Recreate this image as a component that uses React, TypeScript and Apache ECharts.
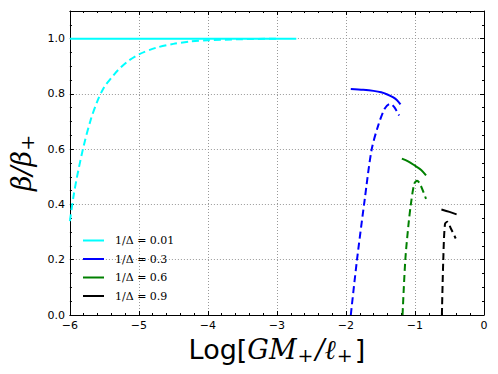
import React, { useEffect, useRef } from "react";
import * as echarts from "echarts";

const legendNames = ["1/Δ = 0.01", "1/Δ = 0.3", "1/Δ = 0.6", "1/Δ = 0.9"];
const colors = ["#00ffff", "#0000ff", "#008000", "#000000"];

// solid curves [x, y]
const solid001: number[][] = [[-6, 1.0], [-2.72, 1.0]];
const solid03: number[][] = [[-1.93, 0.818], [-1.75, 0.815], [-1.6, 0.811], [-1.49, 0.806], [-1.4, 0.798], [-1.32, 0.788], [-1.26, 0.777], [-1.21, 0.762]];
const solid06: number[][] = [[-1.19, 0.566], [-1.1, 0.556], [-1.01, 0.542], [-0.91, 0.525], [-0.84, 0.505]];
const solid09: number[][] = [[-0.617, 0.382], [-0.5, 0.373], [-0.397, 0.364]];

// dashed curves [x, y]
const dashed001: number[][] = [[-6.0, 0.34], [-5.95, 0.426], [-5.9, 0.496], [-5.8, 0.612], [-5.7, 0.705], [-5.6, 0.775], [-5.5, 0.826], [-5.4, 0.858], [-5.3, 0.887], [-5.15, 0.92], [-5.0, 0.943], [-4.75, 0.967], [-4.5, 0.981], [-4.25, 0.99], [-4.0, 0.994], [-3.5, 0.998], [-3.0, 1.0]];
const dashed03: number[][] = [[-1.93, 0.0], [-1.84, 0.2], [-1.73, 0.415], [-1.63, 0.596], [-1.54, 0.68], [-1.44, 0.746], [-1.36, 0.764], [-1.3, 0.752], [-1.23, 0.722]];
const dashed06: number[][] = [[-1.18, 0.0], [-1.14, 0.2], [-1.095, 0.325], [-1.06, 0.4], [-1.01, 0.475], [-0.97, 0.486], [-0.925, 0.473], [-0.84, 0.42]];
const dashed09: number[][] = [[-0.61, 0.0], [-0.59, 0.2], [-0.565, 0.33], [-0.53, 0.337], [-0.48, 0.313], [-0.41, 0.277]];

const xTicks = [-6, -5, -4, -3, -2, -1, 0];
const yTicks = [0, 0.2, 0.4, 0.6, 0.8, 1.0];

export default function App() {
  const ref = useRef<HTMLDivElement>(null);
  useEffect(() => {
    const chart = echarts.init(ref.current!, null, { renderer: "svg" });
    const tickFont = { fontFamily: "DejaVu Sans", fontSize: 11, color: "#000" };
    const solids = [solid001, solid03, solid06, solid09];
    const dashes = [dashed001, dashed03, dashed06, dashed09];
    const series: any[] = [];
    dashes.forEach((d, i) => {
      series.push({
        name: "d" + i,
        type: "line",
        data: d,
        showSymbol: false,
        symbol: "none",
        smooth: 0.3,
        lineStyle: { color: colors[i], width: 2, type: [7, 4] },
        z: 3,
      });
    });
    solids.forEach((d, i) => {
      series.push({
        name: legendNames[i],
        type: "line",
        data: d,
        showSymbol: false,
        symbol: "none",
        smooth: 0.3,
        color: colors[i],
        lineStyle: { color: colors[i], width: 2 },
        z: 4,
      });
    });
    const isMajorY = (v: number) => yTicks.some((t) => Math.abs(t - v) < 1e-6);
    chart.setOption({
      animation: false,
      grid: { left: 66, right: 14, top: 11, bottom: 59, show: false },
      legend: {
        data: legendNames.map((n, i) => ({ name: n, icon: "path://M0,0H21V2H0Z", itemStyle: { color: colors[i] } })),
        orient: "vertical",
        left: 78,
        top: 230,
        itemWidth: 21,
        itemHeight: 12,
        itemGap: 7.5,
        textStyle: { fontFamily: "DejaVu Serif", fontSize: 11, color: "#000", padding: [0, 0, 0, 6] },
      },
      xAxis: [
        {
          type: "value",
          min: -6,
          max: 0,
          interval: 1,
          axisLine: { show: true, onZero: false, lineStyle: { color: "#000", width: 1 } },
          axisTick: { show: true, inside: true, length: 4, lineStyle: { color: "#000" } },
          minorTick: { show: true, splitNumber: 5, length: 2, lineStyle: { color: "#000" } },
          axisLabel: {
            ...tickFont,
            margin: 5,
            formatter: (v: number) => (xTicks.includes(v) ? (v < 0 ? "\u2212" + Math.abs(v) : String(v)) : ""),
          },
          splitLine: { show: true, lineStyle: { color: "#999", type: [1, 2], width: 1 } },
          name: "{a|Log[}{i|GM}{s|+}{i|/ℓ}{s|+}{a|]}",
          nameLocation: "middle",
          nameGap: 18,
          nameTextStyle: {
            rich: {
              a: { fontFamily: "DejaVu Sans", fontSize: 27, color: "#000", lineHeight: 30, verticalAlign: "middle" },
              i: { fontFamily: "DejaVu Serif", fontStyle: "italic", fontSize: 27, color: "#000", lineHeight: 30, verticalAlign: "middle" },
              s: { fontFamily: "DejaVu Serif", fontSize: 19, color: "#000", lineHeight: 12, verticalAlign: "bottom", padding: [0, 2, 0, 1] },
            },
          },
        },
        {
          type: "value",
          position: "top",
          min: -6,
          max: 0,
          interval: 1,
          axisLine: { show: true, onZero: false, lineStyle: { color: "#000", width: 1 } },
          axisTick: { show: true, inside: true, length: 4, lineStyle: { color: "#000" } },
          minorTick: { show: true, splitNumber: 5, length: 2, lineStyle: { color: "#000" } },
          axisLabel: { show: false },
          splitLine: { show: false },
        },
      ],
      yAxis: [
        {
          type: "value",
          min: 0,
          max: 1.1,
          interval: 0.2,
          axisLine: { show: true, onZero: false, lineStyle: { color: "#000", width: 1 } },
          axisTick: { show: true, inside: true, length: 4, lineStyle: { color: "#000" } },
          minorTick: { show: true, splitNumber: 4, length: 2, lineStyle: { color: "#000" } },
          axisLabel: {
            ...tickFont,
            margin: 5,
            formatter: (v: number) => (isMajorY(v) ? v.toFixed(1) : ""),
          },
          splitLine: { show: true, lineStyle: { color: "#999", type: [1, 2], width: 1 } },
          name: "{b|β/β}{s|+}",
          nameLocation: "middle",
          nameGap: 26,
          nameTextStyle: {
            rich: {
              b: { fontFamily: "DejaVu Serif", fontStyle: "italic", fontSize: 27, color: "#000", lineHeight: 30, verticalAlign: "middle" },
              s: { fontFamily: "DejaVu Serif", fontSize: 19, color: "#000", lineHeight: 12, verticalAlign: "bottom" },
            },
          },
        },
        {
          type: "value",
          position: "right",
          min: 0,
          max: 1.1,
          interval: 0.2,
          axisLine: { show: true, onZero: false, lineStyle: { color: "#000", width: 1 } },
          axisTick: { show: true, inside: true, length: 4, lineStyle: { color: "#000" } },
          minorTick: { show: true, splitNumber: 4, length: 2, lineStyle: { color: "#000" } },
          axisLabel: { show: false },
          splitLine: { show: false },
        },
      ],
      series,
    });
    return () => chart.dispose();
  }, []);
  return <div ref={ref} style={{ width: 498, height: 374, position: "absolute", left: 0, top: 0, background: "#fff" }} />;
}
